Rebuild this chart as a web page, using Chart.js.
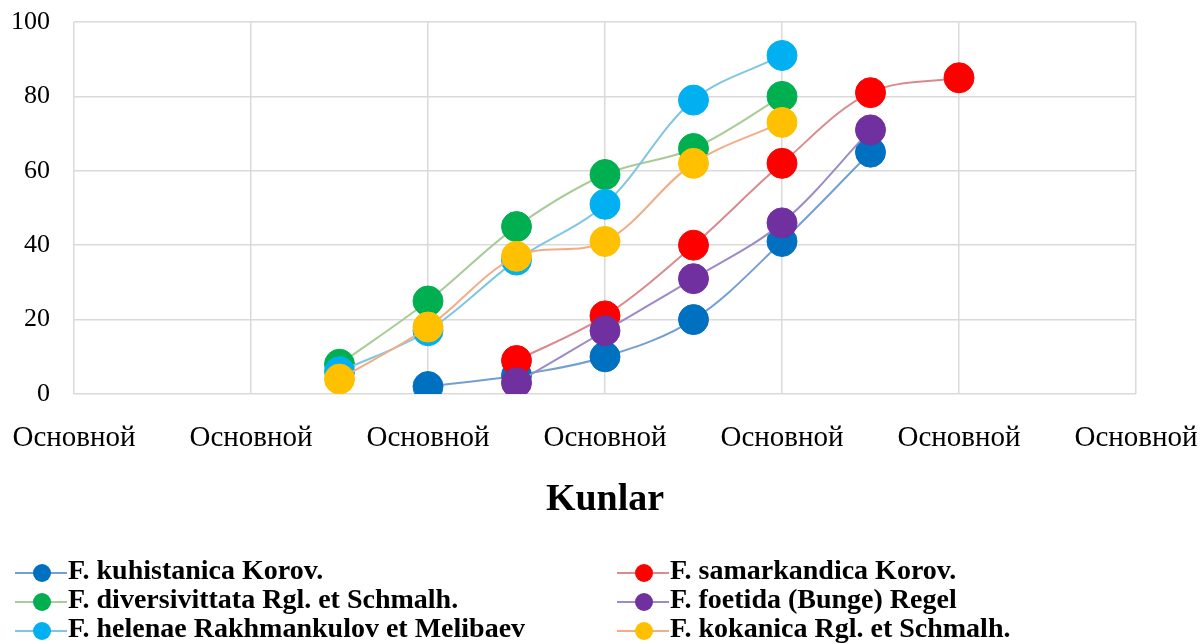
<!DOCTYPE html>
<html>
<head>
<meta charset="utf-8">
<script src="https://cdn.jsdelivr.net/npm/chart.js@4"></script>
<style>
  html, body { margin: 0; padding: 0; background: #fff; }
  #wrap { position: relative; width: 1201px; height: 643px; }
  #legend { position: absolute; left: 0; top: 555px; width: 1201px;
    font-family: "Liberation Serif", "Times New Roman", serif; font-weight: bold;
    font-size: 28px; line-height: 29px; color: #000; }
  .item { position: absolute; white-space: nowrap; }
  .sym { position: absolute; top: 0; width: 52px; height: 29px; }
  .sym .ln { position: absolute; left: 0; right: 0; top: 17px; height: 2px; }
  .sym .dot { position: absolute; left: 18px; top: 9px; width: 18px; height: 18px; border-radius: 50%; }
  .txt { position: absolute; left: 53px; top: 0; }
</style>
</head>
<body>
<div id="wrap">
  <canvas id="c"></canvas>
  <div id="legend"></div>
</div>
<script>
// ---- data ----
const categories = ["Основной","Основной","Основной","Основной","Основной","Основной","Основной",
                    "Основной","Основной","Основной","Основной","Основной","Основной"];
const seriesNames = [
  "F. kuhistanica Korov.",
  "F. samarkandica Korov.",
  "F. diversivittata Rgl. et Schmalh.",
  "F. foetida (Bunge) Regel",
  "F. helenae Rakhmankulov et Melibaev",
  "F. kokanica Rgl. et Schmalh."
];
const kuhistanica    = [null,null,null,null, 2, 5,10,20,41,65,null,null,null];
const samarkandica   = [null,null,null,null,null, 9,21,40,62,81,85,null,null];
const diversivittata = [null,null,null, 8,25,45,59,66,80,null,null,null,null];
const foetida        = [null,null,null,null,null, 3,17,31,46,71,null,null,null];
const helenae        = [null,null,null, 6,17,36,51,79,91,null,null,null,null];
const kokanica       = [null,null,null, 4,18,37,41,62,73,null,null,null,null];
const yTicks = [0,20,40,60,80,100];
const xTitle = "Kunlar";

// ---- styles ----
const markerColors = ["#0070C0","#FF0000","#00B050","#7030A0","#00B0F0","#FFC000"];
const lineColors   = ["#739FD3","#DA8A8C","#A9CB98","#9D8AC6","#80C6E0","#F2AD86"];
const seriesData = [kuhistanica, samarkandica, diversivittata, foetida, helenae, kokanica];

const FONT = '"Liberation Serif", "Times New Roman", serif';

const datasets = seriesData.map((d, i) => ({
  label: seriesNames[i],
  data: d,
  borderColor: lineColors[i],
  borderWidth: 2,
  backgroundColor: markerColors[i],
  pointBackgroundColor: markerColors[i],
  pointBorderColor: markerColors[i],
  pointBorderWidth: 1,
  pointRadius: 15,
  pointHoverRadius: 15,
  tension: 0.35,
  fill: false,
  order: seriesData.length - i
}));

new Chart(document.getElementById('c'), {
  type: 'line',
  data: { labels: categories, datasets },
  options: {
    responsive: true,
    maintainAspectRatio: false,
    animation: false,
    layout: { padding: { left: 0, right: 65, top: 22, bottom: 109 } },
    plugins: { legend: { display: false }, tooltip: { enabled: false } },
    scales: {
      x: {
        type: 'category',
        grid: {
          drawTicks: false,
          color: (ctx) => (ctx.index % 2 === 0 ? '#DADADA' : 'rgba(0,0,0,0)'),
          lineWidth: 1.5
        },
        border: { display: false },
        ticks: {
          autoSkip: false, maxRotation: 0, minRotation: 0, padding: 27,
          color: '#000',
          font: { family: FONT, size: 29 },
          callback: function(v, idx) { return idx % 2 === 0 ? categories[idx] : ''; }
        },
        title: {
          display: true, text: xTitle, color: '#000',
          font: { family: FONT, size: 38, weight: 'bold' },
          padding: { top: 0, bottom: 11 }
        },
        afterFit: (s) => { s.height = 140; s.paddingLeft = 0; s.paddingRight = 0; }
      },
      y: {
        min: 0, max: 100,
        afterBuildTicks: (s) => { s.ticks = yTicks.map(v => ({ value: v })); },
        grid: { drawTicks: false, color: '#DADADA', lineWidth: 1.5 },
        border: { display: false },
        ticks: {
          padding: 24, color: '#000',
          font: { family: FONT, size: 26 }
        },
        afterFit: (s) => { s.width = 74; s.paddingTop = 0; s.paddingBottom = 0; }
      }
    }
  }
});

// ---- legend (HTML, built from the series arrays) ----
const legend = document.getElementById('legend');
const colX = [15, 617];
seriesNames.forEach((name, i) => {
  const col = i % 2, row = Math.floor(i / 2);
  const it = document.createElement('div');
  it.className = 'item';
  it.style.left = colX[col] + 'px';
  it.style.top = (row * 29) + 'px';
  it.innerHTML = '<div class="sym"><div class="ln" style="background:' + lineColors[i] +
    '"></div><div class="dot" style="background:' + markerColors[i] + '"></div></div>' +
    '<div class="txt"></div>';
  it.querySelector('.txt').textContent = name;
  legend.appendChild(it);
});
</script>
</body>
</html>
